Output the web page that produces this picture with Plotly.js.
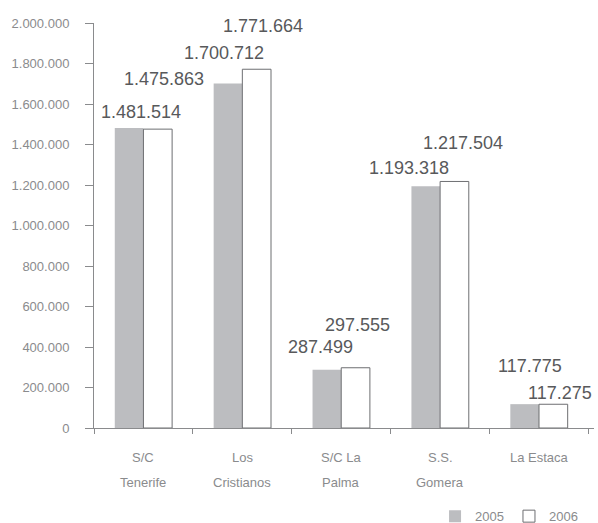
<!DOCTYPE html>
<html>
<head>
<meta charset="utf-8">
<script src="https://cdn.plot.ly/plotly-3.0.1.min.js"></script>
<style>
html,body{margin:0;padding:0;background:#fff;}
#chart{width:598px;height:523px;}
</style>
</head>
<body>
<div id="chart"></div>
<script>
// ---- data ----
const categories = ['S/C Tenerife', 'Los Cristianos', 'S/C La Palma', 'S.S. Gomera', 'La Estaca'];
const labelLine1 = ['S/C', 'Los', 'S/C La', 'S.S.', 'La Estaca'];
const labelLine2 = ['Tenerife', 'Cristianos', 'Palma', 'Gomera', ''];
const values2005 = [1481514, 1700712, 287499, 1193318, 117775];
const values2006 = [1475863, 1771664, 297555, 1217504, 117275];
const seriesNames = ['2005', '2006'];
const yTickVals = [0, 200000, 400000, 600000, 800000, 1000000, 1200000, 1400000, 1600000, 1800000, 2000000];

// ---- layout-only offsets for value labels (pixels) ----
const lab2005dx = [-2, -18, -21, -31, -9];
const lab2005dy = [16, 31, 23, 18, 38];
const lab2006dx = [21, 21, 16, 23, 21];
const lab2006dy = [50, 43, 43, 38, 11];

const fmt = v => v.toLocaleString('de-DE');
const FONT = 'Liberation Sans, Arial, sans-serif';
const axisGray = '#8a8b8d';
const textGray = '#8a8b8d';

const traces = [
  {
    type: 'bar', name: seriesNames[0], x: categories, y: values2005,
    marker: {color: '#bcbdc0', line: {width: 0}},
    hoverinfo: 'skip'
  },
  {
    type: 'bar', name: seriesNames[1], x: categories, y: values2006,
    marker: {color: '#ffffff', line: {color: '#6d6e71', width: 1}},
    hoverinfo: 'skip'
  }
];

const annotations = [];
categories.forEach((c, i) => {
  annotations.push({
    xref: 'x', yref: 'y', x: c, y: values2005[i], text: fmt(values2005[i]),
    showarrow: false, xanchor: 'center', yanchor: 'middle',
    xshift: lab2005dx[i], yshift: lab2005dy[i],
    font: {family: FONT, size: 18, color: '#58595b'}
  });
  annotations.push({
    xref: 'x', yref: 'y', x: c, y: values2006[i], text: fmt(values2006[i]),
    showarrow: false, xanchor: 'center', yanchor: 'middle',
    xshift: lab2006dx[i], yshift: lab2006dy[i],
    font: {family: FONT, size: 18, color: '#58595b'}
  });
  annotations.push({
    xref: 'x', yref: 'paper', x: c, y: 0, text: labelLine1[i],
    showarrow: false, xanchor: 'center', yanchor: 'middle', yshift: -29,
    font: {family: FONT, size: 13, color: textGray}
  });
  if (labelLine2[i]) {
    annotations.push({
      xref: 'x', yref: 'paper', x: c, y: 0, text: labelLine2[i],
      showarrow: false, xanchor: 'center', yanchor: 'middle', yshift: -54,
      font: {family: FONT, size: 13, color: textGray}
    });
  }
});

const layout = {
  width: 598, height: 523,
  margin: {l: 94, r: 4, t: 23, b: 95, autoexpand: false},
  paper_bgcolor: '#ffffff', plot_bgcolor: '#ffffff',
  separators: ',.',
  barmode: 'group', bargap: 0.42, bargroupgap: 0,
  font: {family: FONT, size: 13, color: textGray},
  xaxis: {
    type: 'category', showticklabels: false,
    showline: true, linecolor: axisGray, linewidth: 1,
    ticks: 'outside', tickson: 'boundaries', ticklen: 5, tickcolor: axisGray,
    showgrid: false, zeroline: false, fixedrange: true
  },
  yaxis: {
    range: [0, 2000000], tickvals: yTickVals, tickformat: ',d',
    showline: true, linecolor: axisGray, linewidth: 1,
    ticks: 'outside', ticklen: 8, tickcolor: axisGray, ticklabelstandoff: 13,
    showgrid: false, zeroline: false, fixedrange: true,
    tickfont: {family: FONT, size: 13, color: textGray}
  },
  showlegend: true,
  legend: {
    orientation: 'h', xref: 'container', yref: 'container',
    x: 0.975, xanchor: 'right', y: 0.013, yanchor: 'middle',
    font: {family: FONT, size: 13, color: textGray},
    itemwidth: 30, traceorder: 'normal', bgcolor: 'rgba(0,0,0,0)'
  },
  annotations: annotations
};

Plotly.newPlot('chart', traces, layout, {displayModeBar: false, staticPlot: true});
</script>
</body>
</html>
